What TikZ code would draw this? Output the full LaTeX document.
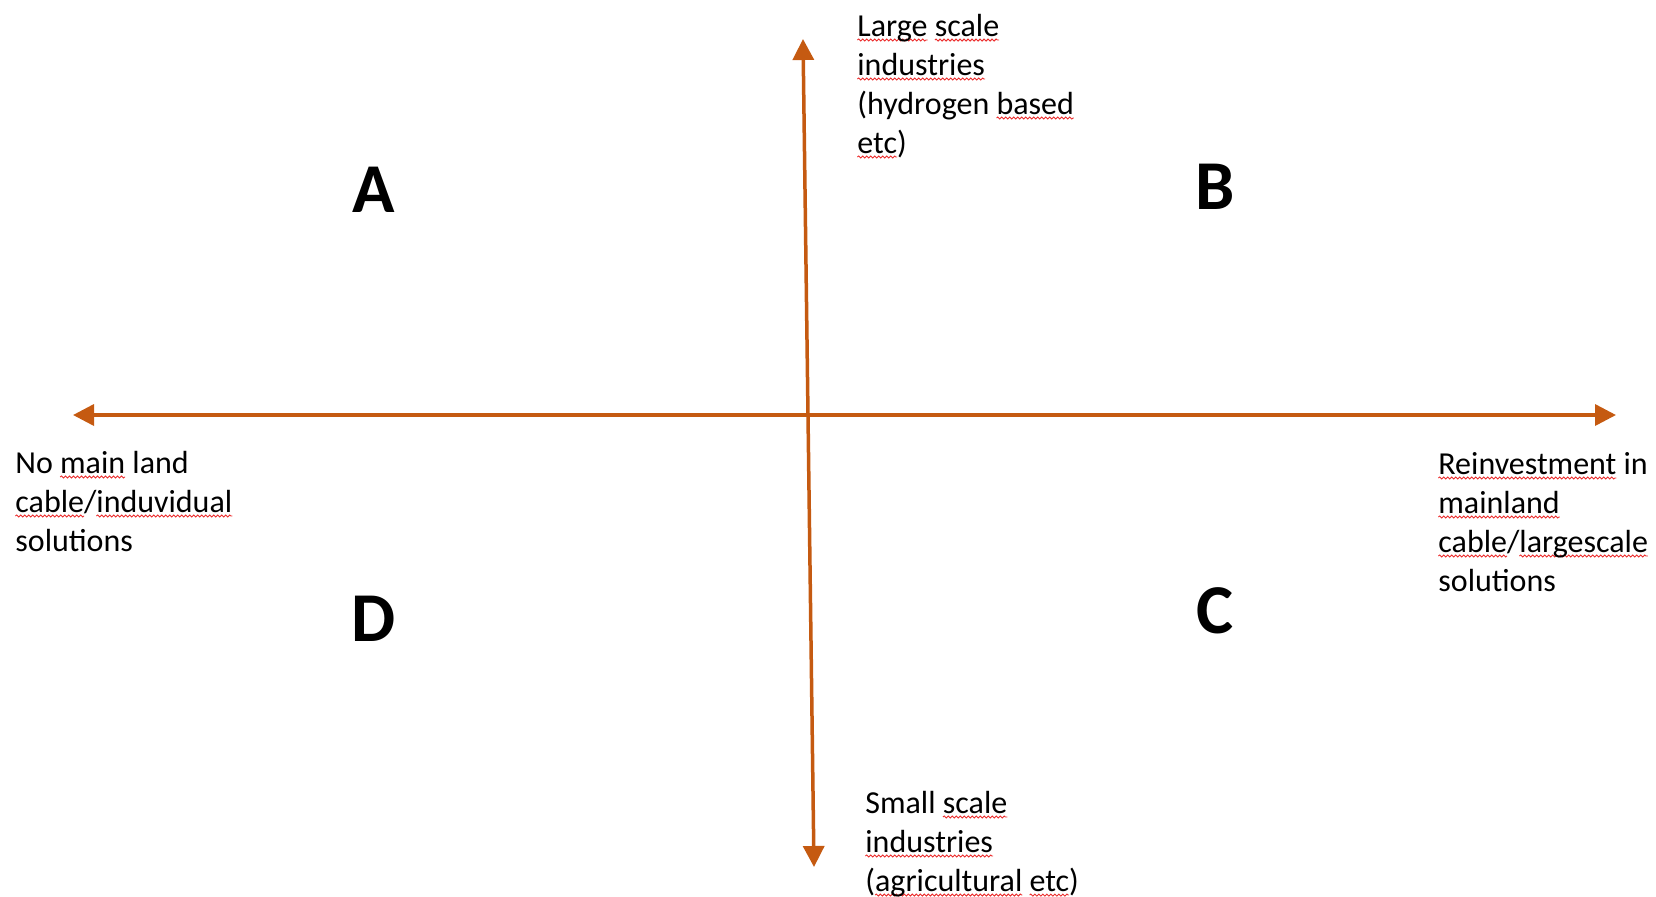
\documentclass[tikz,border=0pt]{standalone}
\usepackage{fontspec}
\setmainfont{Carlito}
\usetikzlibrary{arrows.meta,decorations.pathmorphing}

\definecolor{axisorange}{RGB}{197,90,17}
\definecolor{spellred}{RGB}{235,45,45}

% red wavy underline for flagged words
\newsavebox\wavybox
\newlength\wavylen
\newcommand\wavy[1]{\sbox\wavybox{#1}\setlength\wavylen{\wd\wavybox}%
  \rlap{\tikz[overlay,x=1pt,y=1pt]\draw[spellred,line width=0.45pt,decorate,
    decoration={snake,amplitude=0.5pt,segment length=2pt}] (0,-2) -- (\wavylen,-2);}%
  \usebox\wavybox}

\begin{document}
\begin{tikzpicture}[x=0.5pt,y=-0.5pt,>={Triangle[length=10.5pt,width=10.5pt]},
    every node/.style={inner sep=0pt,align=left,font=\fontsize{16}{19.5}\selectfont},
    quad/.style={font=\fontsize{35}{40}\selectfont\bfseries}]
  \useasboundingbox (0,0) rectangle (1656,896);

  % axis ends
  \coordinate (west) at (73,415);
  \coordinate (east) at (1616,415);
  \coordinate (north) at (803,39);
  \coordinate (south) at (814,867);
  \draw[axisorange,line width=1.75pt,<->] (west) -- (east);
  \draw[axisorange,line width=1.75pt,<->] (north) -- (south);

  % axis labels (placed by the baseline of their last line)
  \node (large) [anchor=base west] at (857,153) {\wavy{Large} \wavy{scale}\\ \wavy{industries}\\ (hydrogen \wavy{based}\\ \wavy{etc})};
  \node (small) [anchor=base west] at (865,891) {Small \wavy{scale}\\ \wavy{industries}\\ (\wavy{agricultural} \wavy{etc})};
  \node (nocable) [anchor=base west] at (15,551) {No \wavy{main} land\\ \wavy{cable}/\wavy{induvidual}\\ solutions};
  \node (reinvest) [anchor=base west] at (1438,591) {\wavy{Reinvestment} in\\ \wavy{mainland}\\ \wavy{cable}/\wavy{largescale}\\ solutions};

  % quadrants
  \node[quad] (qa) at (374,190) {A};
  \node[quad] (qb) at (1215,187) {B};
  \node[quad] (qc) at (1215,611) {C};
  \node[quad] (qd) at (374,619) {D};
\end{tikzpicture}
\end{document}
